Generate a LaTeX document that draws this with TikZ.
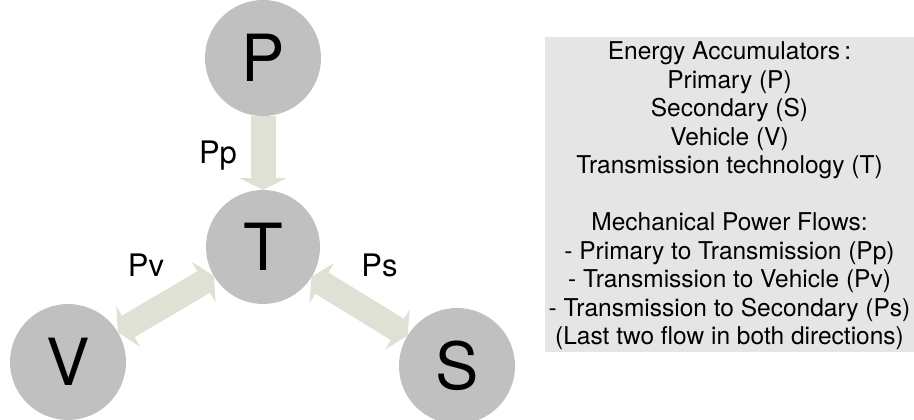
\documentclass[tikz,border=0pt]{standalone}
\usepackage{fontspec}
\setmainfont{TeX Gyre Heros}
\usetikzlibrary{arrows.meta}
\definecolor{circgray}{RGB}{192,192,192}
\definecolor{flowcol}{RGB}{223,225,212}
\definecolor{boxgray}{RGB}{229,229,229}
\tikzset{
  acc/.style={circle, fill=circgray, inner sep=0pt, outer sep=0pt, minimum size=116pt,
    font=\fontsize{65}{70}\selectfont},
  flow/.style={draw=flowcol, line width=25pt,
    -{Triangle[length=12pt,width=47pt,fill=flowcol,color=flowcol]}},
  dflow/.style={draw=flowcol, line width=25pt,
    {Triangle[length=12pt,width=47pt,fill=flowcol,color=flowcol]}-{Triangle[length=12pt,width=47pt,fill=flowcol,color=flowcol]}},
  flowlabel/.style={anchor=base, inner sep=0pt, font=\fontsize{31}{34}\selectfont},
  legend/.style={anchor=north, inner sep=0pt, align=center, font=\fontsize{24.5}{28.5}\selectfont}
}
\begin{document}
\begin{tikzpicture}[x=1pt,y=-1pt]
\useasboundingbox (0,0) rectangle (914,420);
\fill[boxgray] (545,37) rectangle (914,352);
\node[legend] (legendtext) at (729.5,41.5) {Energy Accumulators\,:\\ Primary (P)\\ Secondary (S)\\ Vehicle (V)\\ Transmission technology (T)\\[28.5pt] Mechanical Power Flows:\\ - Primary to Transmission (Pp)\\ - Transmission to Vehicle (Pv)\\ - Transmission to Secondary (Ps)\\ (Last two flow in both directions)};

\node[acc] (P) at (263,58) {P};
\node[acc, minimum size=114pt] (T) at (263,247) {T};
\node[acc] (V) at (68,362) {V};
\node[acc] (S) at (457,366) {S};

\draw[flow] (P) -- (T);
\draw[dflow] (T) -- (V);
\draw[dflow] (T) -- (S);

\node[flowlabel] (Pp) at (218,163) {Pp};
\node[flowlabel] (Pv) at (146,276) {Pv};
\node[flowlabel] (Ps) at (379.5,276) {Ps};
\end{tikzpicture}
\end{document}
